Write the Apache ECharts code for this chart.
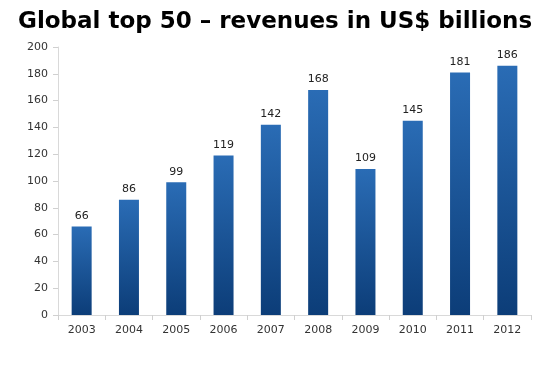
<!DOCTYPE html>
<html><head><meta charset="utf-8">
<script src="https://cdn.jsdelivr.net/npm/echarts@6/dist/echarts.min.js"></script>
<style>html,body{margin:0;padding:0;background:#fff}#c{width:550px;height:379px}</style>
</head><body><div id="c"></div>
<script>
const categories = ['2003','2004','2005','2006','2007','2008','2009','2010','2011','2012'];
const revenues = [66, 86, 99, 119, 142, 168, 109, 145, 181, 186];
const yTicks = {min: 0, max: 200, interval: 20};
const titleText = 'Global top 50 – revenues in US$ billions';

const chart = echarts.init(document.getElementById('c'));
chart.setOption({
  animation: false,
  title: {
    text: titleText, left: 13, top: 6,
    textStyle: {fontFamily: 'DejaVu Sans', fontWeight: 'bold', fontSize: 23, color: '#000'}
  },
  grid: {left: 58, right: 19, top: 47, bottom: 64},
  xAxis: {
    type: 'category', data: categories,
    axisLine: {lineStyle: {color: '#d9d9d9'}},
    axisTick: {show: true, alignWithLabel: false, lineStyle: {color: '#d0d0d0'}},
    axisLabel: {color: '#333', fontSize: 11, fontFamily: 'DejaVu Sans', margin: 10}
  },
  yAxis: {
    type: 'value', min: yTicks.min, max: yTicks.max, interval: yTicks.interval,
    axisLine: {show: true, lineStyle: {color: '#d9d9d9'}},
    axisTick: {show: true, lineStyle: {color: '#d0d0d0'}},
    splitLine: {show: false},
    axisLabel: {color: '#333', fontSize: 11, fontFamily: 'DejaVu Sans', margin: 10}
  },
  series: [{
    type: 'bar', data: revenues, barWidth: 20,
    itemStyle: {
      color: new echarts.graphic.LinearGradient(0, 0, 0, 1, [
        {offset: 0, color: '#2a6cb5'}, {offset: 1, color: '#0c3d78'}
      ])
    },
    label: {show: true, position: 'top', distance: 5, color: '#222', fontSize: 11, fontFamily: 'DejaVu Sans'}
  }]
});
</script></body></html>
